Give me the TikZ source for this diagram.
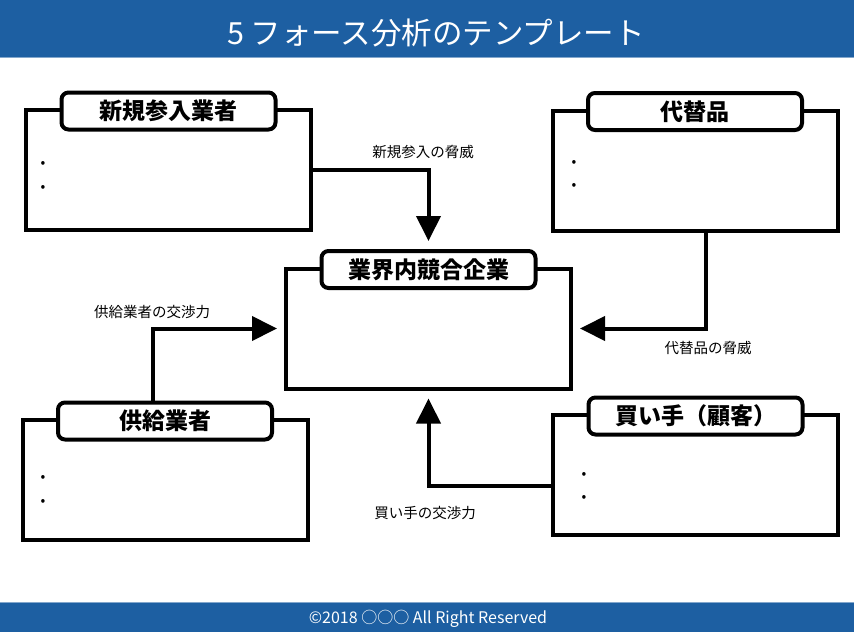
\documentclass[tikz,border=0pt]{standalone}
\usepackage{fontspec}
\setmainfont{Noto Sans CJK JP}
\usetikzlibrary{arrows.meta}
\definecolor{barblue}{HTML}{1D5FA2}

\begin{document}
\begin{tikzpicture}[x=1pt,y=-1pt,
  box/.style={draw,line width=4pt,minimum width=285pt,minimum height=120pt,inner sep=0pt},
  tab/.style={draw,line width=4pt,fill=white,rounded corners=7pt,minimum width=214pt,
    minimum height=37pt,inner sep=0pt,font=\bfseries\fontsize{23}{23}\selectfont},
  arr/.style={line width=4pt,-{Triangle[width=24pt,length=25pt]}},
  lbl/.style={font=\fontsize{14.5}{14.5}\selectfont},
  dot/.style={font=\fontsize{14}{14}\selectfont,inner sep=0pt}]
  \useasboundingbox (0,0) rectangle (854,632);
  % bars
  \fill[barblue] (0,0) rectangle (854,57);
  \draw[barblue!55,line width=1pt] (0,57) -- (854,57);
  \fill[barblue] (0,602) rectangle (854,632);
  \draw[barblue!55,line width=1pt] (0,602) -- (854,602);
  \node[text=white,font=\fontsize{30.5}{30.5}\selectfont] (title) at (436,33) {5 フォース分析のテンプレート};
  \node[text=white,font=\fontsize{16}{16}\selectfont] (footer) at (428,619) {©2018 ○○○ All Right Reserved};

  % boxes
  \node[box] (newbox) at (168.5,170) {};
  \node[box] (subbox) at (695,170.5) {};
  \node[box] (rivbox) at (428.5,328.5) {};
  \node[box] (supbox) at (165,480) {};
  \node[box] (buybox) at (695.5,475) {};

  \node[tab] (newtab) at ([yshift=-3pt]newbox.north) {新規参入業者};
  \node[tab] (subtab) at ([yshift=-3pt]subbox.north) {代替品};
  \node[tab] (rivtab) at ([yshift=-3pt]rivbox.north) {業界内競合企業};
  \node[tab] (suptab) at ([yshift=-3pt]supbox.north) {供給業者};
  \node[tab] (buytab) at ([yshift=-3pt]buybox.north) {買い手（顧客）};

  % bullets
  \node[dot] (newdot1) at (43,164) {•};
  \node[dot] (newdot2) at (43,188) {•};
  \node[dot] (subdot1) at (574,163) {•};
  \node[dot] (subdot2) at (574,186) {•};
  \node[dot] (supdot1) at (43,478) {•};
  \node[dot] (supdot2) at (43,502) {•};
  \node[dot] (buydot1) at (584,475) {•};
  \node[dot] (buydot2) at (584,498) {•};

  % forces
  \draw[arr] (newbox.east) -| ([yshift=8pt]rivtab.north);
  \draw[arr] ([xshift=11pt]subbox.south) |- ([xshift=7pt]rivbox.east);
  \draw[arr] ([xshift=-12pt]suptab.north) |- ([xshift=-7pt]rivbox.west);
  \draw[arr] ([yshift=-11pt]buybox.west) -| ([yshift=-8pt]rivbox.south);

  \node[lbl] (newlbl) at (423,152) {新規参入の脅威};
  \node[lbl] (sublbl) at (708,348) {代替品の脅威};
  \node[lbl] (suplbl) at (152,312) {供給業者の交渉力};
  \node[lbl] (buylbl) at (425,513) {買い手の交渉力};
\end{tikzpicture}
\end{document}
